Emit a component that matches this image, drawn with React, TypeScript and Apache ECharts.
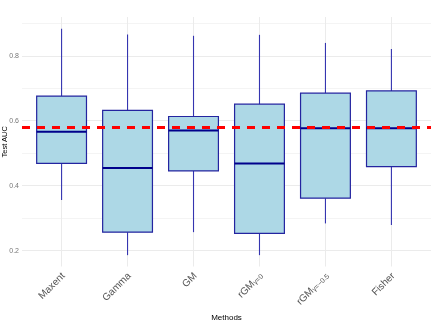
import React, { useEffect, useRef } from 'react';
import * as echarts from 'echarts';

const categories = ['Maxent', 'Gamma', 'GM', 'rGM_γ=0', 'rGM_γ=−0.5', 'Fisher'];
const whiskerLow = [0.355, 0.185, 0.256, 0.185, 0.283, 0.278];
const q1 = [0.468, 0.256, 0.445, 0.252, 0.361, 0.458];
const median = [0.566, 0.454, 0.57, 0.468, 0.577, 0.577];
const q3 = [0.676, 0.632, 0.613, 0.651, 0.685, 0.692];
const whiskerHigh = [0.884, 0.866, 0.862, 0.865, 0.84, 0.821];
const referenceLine = 0.577;
const yTicks = [0.2, 0.4, 0.6, 0.8];
const yMinorGrid = [0.3, 0.5, 0.7, 0.9];
const xTicks = [0, 1, 2, 3, 4, 5];

const FONT = '"Liberation Sans", Arial, Helvetica, sans-serif';

export default function App() {
  const ref = useRef<HTMLDivElement>(null);
  useEffect(() => {
    if (!ref.current) return;
    const chart = echarts.init(ref.current, null, { renderer: 'svg' });
    const boxData = categories.map((_, i) => [i, whiskerLow[i], q1[i], median[i], q3[i], whiskerHigh[i]]);
    const gridLines: any[] = [];
    yTicks.forEach((v) => gridLines.push({ yAxis: v, lineStyle: { color: '#ebebeb', width: 1, type: 'solid' } }));
    yMinorGrid.forEach((v) => gridLines.push({ yAxis: v, lineStyle: { color: '#f4f4f4', width: 1, type: 'solid' } }));
    xTicks.forEach((v) => gridLines.push({ xAxis: v, lineStyle: { color: '#ebebeb', width: 1, type: 'solid' } }));

    const option: any = {
      animation: false,
      grid: { left: 22, right: 5, top: 17, bottom: 60.5, containLabel: false, outerBoundsMode: 'none' },
      xAxis: {
        type: 'value',
        min: -0.6,
        max: 5.6,
        name: 'Methods',
        nameLocation: 'middle',
        nameGap: 47,
        nameTextStyle: { fontFamily: FONT, fontSize: 8, color: '#000' },
        axisLine: { show: false },
        axisTick: { show: false },
        splitLine: { show: false },
        axisLabel: {
          customValues: xTicks,
          rotate: 45,
          margin: 6,
          fontFamily: FONT,
          fontSize: 10,
          color: '#555',
          formatter: (v: number) => {
            const idx = Math.round(v);
            if (Math.abs(v - idx) > 1e-6 || idx < 0 || idx >= categories.length) return '';
            const name = categories[idx];
            const parts = name.split('_');
            if (parts.length === 2) return `{m|${parts[0]}}{s|${parts[1]}}`;
            return `{m|${name}}`;
          },
          rich: {
            m: { fontFamily: FONT, fontSize: 10, color: '#555', verticalAlign: 'bottom', lineHeight: 14 },
            s: { fontFamily: FONT, fontSize: 7, color: '#555', verticalAlign: 'bottom', lineHeight: 8 },
          },
        },
      },
      yAxis: {
        type: 'value',
        min: 0.15,
        max: 0.92,
        name: 'Test AUC',
        nameLocation: 'middle',
        nameGap: 14,
        nameMoveOverlap: false,
        nameRotate: 90,
        nameTextStyle: { fontFamily: FONT, fontSize: 7.5, color: '#000' },
        axisLine: { show: false },
        axisTick: { show: false },
        splitLine: { show: false },
        axisLabel: {
          customValues: yTicks,
          margin: 3,
          fontFamily: FONT,
          fontSize: 7,
          color: '#777',
          formatter: (v: number) => (yTicks.some((t) => Math.abs(t - v) < 1e-6) ? v.toFixed(1) : ''),
        },
      },
      series: [
        {
          type: 'line',
          data: [],
          z: 0,
          silent: true,
          markLine: { silent: true, z: 0, symbol: 'none', label: { show: false }, data: gridLines },
        },
        {
          type: 'custom',
          z: 2,
          data: boxData,
          encode: { x: 0, y: [1, 2, 3, 4, 5] },
          renderItem: (params: any, api: any) => {
            const i = api.value(0);
            const lo = api.coord([i, api.value(1)]);
            const b1 = api.coord([i, api.value(2)]);
            const md = api.coord([i, api.value(3)]);
            const b3 = api.coord([i, api.value(4)]);
            const hi = api.coord([i, api.value(5)]);
            const w = api.size([0.755, 0])[0];
            const x = lo[0];
            return {
              type: 'group',
              children: [
                { type: 'line', shape: { x1: x, y1: hi[1], x2: x, y2: b3[1] }, style: { stroke: '#3535b0', lineWidth: 1.1 } },
                { type: 'line', shape: { x1: x, y1: b1[1], x2: x, y2: lo[1] }, style: { stroke: '#3535b0', lineWidth: 1.1 } },
                {
                  type: 'rect',
                  shape: { x: x - w / 2, y: b3[1], width: w, height: b1[1] - b3[1] },
                  style: { fill: '#ADD8E6', stroke: '#2424a0', lineWidth: 1.2 },
                },
                { type: 'line', shape: { x1: x - w / 2, y1: md[1], x2: x + w / 2, y2: md[1] }, style: { stroke: '#00008B', lineWidth: 2 } },
              ],
            };
          },
        },
        {
          type: 'line',
          data: [],
          z: 10,
          silent: true,
          markLine: {
            silent: true,
            z: 10,
            symbol: 'none',
            label: { show: false },
            lineStyle: { color: '#ff0000', width: 3, type: [8, 7] },
            data: [{ yAxis: referenceLine }],
          },
        },
      ],
    };
    chart.setOption(option);
    return () => chart.dispose();
  }, []);
  return <div ref={ref} style={{ position: 'fixed', left: 0, top: 0, width: 436, height: 327 }} />;
}
